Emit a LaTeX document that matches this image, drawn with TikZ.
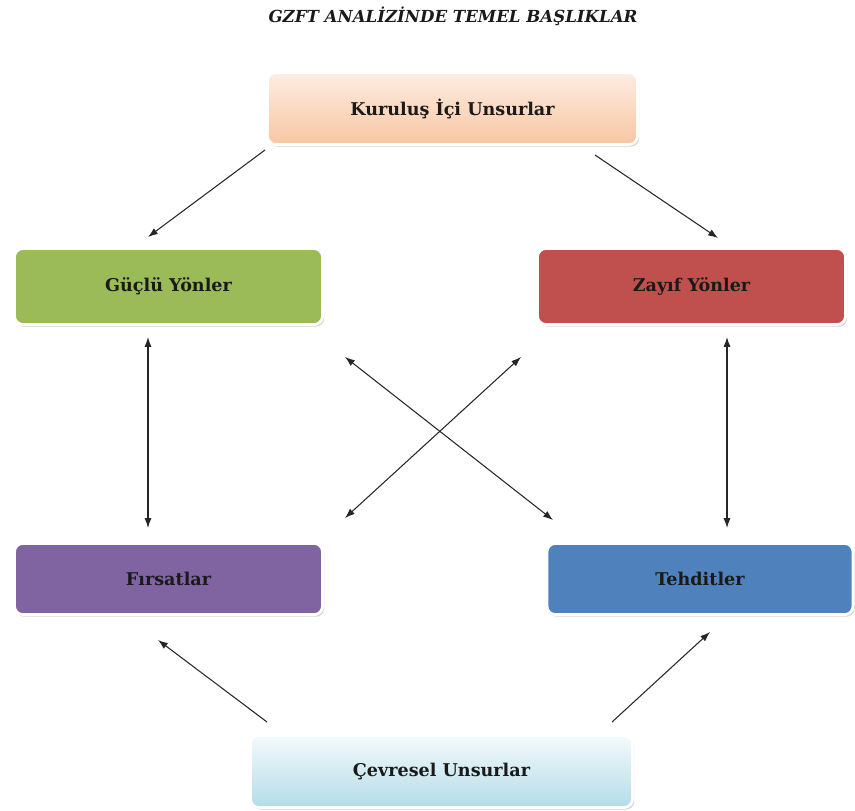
\documentclass[tikz,border=0pt]{standalone}
\usepackage{fontspec}
\setmainfont{DejaVu Serif}
\usetikzlibrary{arrows.meta,shadows}
\definecolor{yesil}{HTML}{9BBB59}
\definecolor{kirmizi}{HTML}{C0504D}
\definecolor{mor}{HTML}{8064A2}
\definecolor{mavi}{HTML}{4F81BD}
\definecolor{seftaliA}{HTML}{FDEDE2}
\definecolor{seftaliB}{HTML}{F8C6A2}
\definecolor{buzA}{HTML}{F3FAFC}
\definecolor{buzB}{HTML}{B4DCE7}
\definecolor{yazi}{HTML}{1A1A1A}
\begin{document}
\begin{tikzpicture}[x=0.025cm,y=-0.025cm,
	kutu/.style={rounded corners=6pt,draw=white,line width=2pt,align=center,text=yazi,
		font=\bfseries\fontsize{12.5}{14}\selectfont,
		drop shadow={shadow xshift=1.2pt,shadow yshift=-1.5pt,fill=black!35}},
	ok/.style={-{Latex[length=7pt,width=5pt]},line width=0.75pt,black!85},
	cift/.style={{Latex[length=7pt,width=5pt]}-{Latex[length=7pt,width=5pt]},line width=0.75pt,black!85}]
	
	\useasboundingbox (0,0) rectangle (855,810);
	
	\node[font=\bfseries\itshape\fontsize{11.8}{13}\selectfont,text=yazi] (baslik) at (453,16)
	{GZFT ANALİZİNDE TEMEL BAŞLIKLAR};
	
	\node[kutu,minimum width=9.25cm,minimum height=1.8cm,top color=seftaliA,bottom color=seftaliB]
	(kurulus) at (452.5,108.5) {Kuruluş İçi Unsurlar};
	\node[kutu,minimum width=7.7cm,minimum height=1.9cm,fill=yesil]
	(guclu) at (168.5,286.5) {Güçlü Yönler};
	\node[kutu,minimum width=7.7cm,minimum height=1.9cm,fill=kirmizi]
	(zayif) at (691.5,286.5) {Zayıf Yönler};
	\node[kutu,minimum width=7.7cm,minimum height=1.78cm,fill=mor]
	(firsat) at (168.5,579) {Fırsatlar};
	\node[kutu,minimum width=7.65cm,minimum height=1.78cm,fill=mavi]
	(tehdit) at (700,579) {Tehditler};
	\node[kutu,minimum width=9.55cm,minimum height=1.8cm,top color=buzA,bottom color=buzB]
	(cevre) at (441.5,771.5) {Çevresel Unsurlar};
	
	% ok uclari
	\coordinate (k1) at (265,150); \coordinate (g1) at (148,237);
	\coordinate (k2) at (595,155); \coordinate (z1) at (718,238);
	\coordinate (g2) at (148,337); \coordinate (f1) at (148,528);
	\coordinate (z2) at (727,337); \coordinate (t1) at (727,528);
	\coordinate (x1) at (345,357); \coordinate (x2) at (553,520);
	\coordinate (x3) at (521,357); \coordinate (x4) at (345,518);
	\coordinate (e1) at (267,722); \coordinate (f2) at (158,640);
	\coordinate (e2) at (612,722); \coordinate (t2) at (710,632);
	
	\draw[ok] (k1) -- (g1);
	\draw[ok] (k2) -- (z1);
	\draw[cift] (g2) -- (f1);
	\draw[cift] (z2) -- (t1);
	\draw[cift] (x1) -- (x2);
	\draw[cift] (x3) -- (x4);
	\draw[ok] (e1) -- (f2);
	\draw[ok] (e2) -- (t2);
	
\end{tikzpicture}
\end{document}
